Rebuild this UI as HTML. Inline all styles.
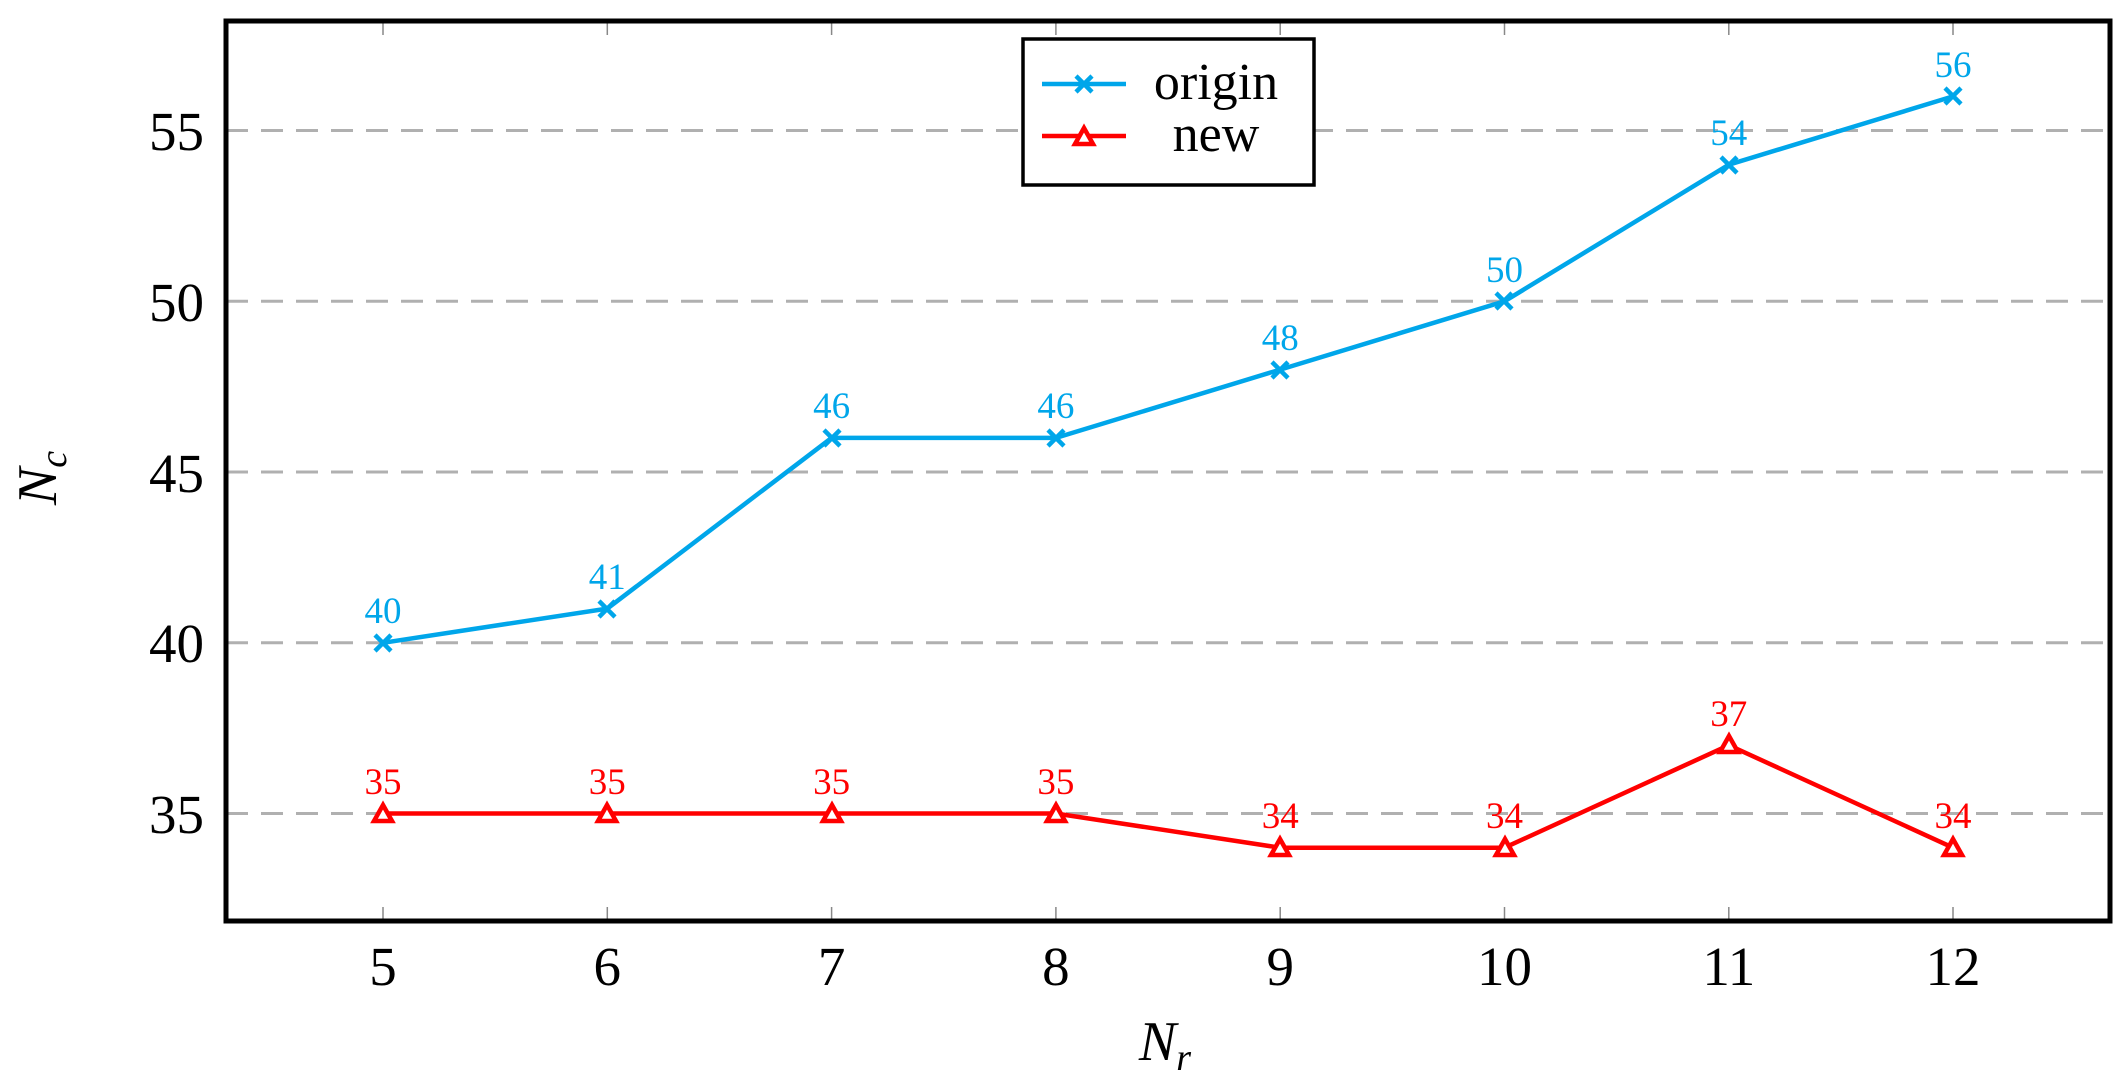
<!DOCTYPE html>
<html><head><meta charset="utf-8"><style>
html,body{margin:0;padding:0;background:#fff;}
svg{display:block;}
text{font-family:"Liberation Serif",serif;}
</style></head><body>
<svg width="2128" height="1079" viewBox="0 0 2128 1079" xmlns="http://www.w3.org/2000/svg">
<g stroke="#b0b0b0" stroke-width="3" stroke-dasharray="22,13">
<line x1="226" y1="130.5" x2="2110" y2="130.5"/>
<line x1="226" y1="301.3" x2="2110" y2="301.3"/>
<line x1="226" y1="472" x2="2110" y2="472"/>
<line x1="226" y1="642.8" x2="2110" y2="642.8"/>
<line x1="226" y1="813.5" x2="2110" y2="813.5"/>
</g>
<g stroke="#888" stroke-width="1.5">
<line x1="383" y1="21" x2="383" y2="35"/><line x1="607.3" y1="21" x2="607.3" y2="35"/><line x1="831.6" y1="21" x2="831.6" y2="35"/><line x1="1055.9" y1="21" x2="1055.9" y2="35"/><line x1="1280.2" y1="21" x2="1280.2" y2="35"/><line x1="1504.5" y1="21" x2="1504.5" y2="35"/><line x1="1728.8" y1="21" x2="1728.8" y2="35"/><line x1="1953" y1="21" x2="1953" y2="35"/>
<line x1="383" y1="921" x2="383" y2="907"/><line x1="607.3" y1="921" x2="607.3" y2="907"/><line x1="831.6" y1="921" x2="831.6" y2="907"/><line x1="1055.9" y1="921" x2="1055.9" y2="907"/><line x1="1280.2" y1="921" x2="1280.2" y2="907"/><line x1="1504.5" y1="921" x2="1504.5" y2="907"/><line x1="1728.8" y1="921" x2="1728.8" y2="907"/><line x1="1953" y1="921" x2="1953" y2="907"/>
</g>
<rect x="226" y="21" width="1884" height="900" fill="none" stroke="#000" stroke-width="5"/>
<g font-size="55" text-anchor="end" fill="#000">
<text x="204" y="150">55</text><text x="204" y="321">50</text><text x="204" y="492">45</text><text x="204" y="662">40</text><text x="204" y="833">35</text>
</g>
<g font-size="55" text-anchor="middle" fill="#000">
<text x="383" y="985">5</text><text x="607.3" y="985">6</text><text x="831.6" y="985">7</text><text x="1055.9" y="985">8</text><text x="1280.2" y="985">9</text><text x="1504.5" y="985">10</text><text x="1728.8" y="985">11</text><text x="1953" y="985">12</text>
</g>
<text x="1165" y="1060" font-size="56" font-style="italic" text-anchor="middle">N<tspan font-size="38" dy="10">r</tspan></text>
<text transform="translate(56,478) rotate(-90)" font-size="56" font-style="italic" text-anchor="middle">N<tspan font-size="38" dy="10">c</tspan></text>
<!-- origin -->
<polyline fill="none" stroke="#00A6EA" stroke-width="4.5" points="383,642.8 607.3,608.6 831.6,437.9 1055.9,437.9 1280.2,369.6 1504.5,301.3 1728.8,164.7 1953,96.4"/>
<g stroke="#00A6EA" stroke-width="4.5">
<path d="M375,635l16,16M375,651l16,-16"/><path d="M599,601l16,16M599,617l16,-16"/><path d="M824,430l16,16M824,446l16,-16"/><path d="M1048,430l16,16M1048,446l16,-16"/><path d="M1272,362l16,16M1272,378l16,-16"/><path d="M1496,293l16,16M1496,309l16,-16"/><path d="M1721,157l16,16M1721,173l16,-16"/><path d="M1945,88l16,16M1945,104l16,-16"/>
</g>
<g fill="#00A6EA" font-size="37" text-anchor="middle">
<text x="383" y="623">40</text><text x="607.3" y="589">41</text><text x="831.6" y="418">46</text><text x="1055.9" y="418">46</text><text x="1280.2" y="350">48</text><text x="1504.5" y="282">50</text><text x="1728.8" y="145">54</text><text x="1953" y="77">56</text>
</g>
<!-- new -->
<polyline fill="none" stroke="#FF0000" stroke-width="4.5" points="383,813.5 607.3,813.5 831.6,813.5 1055.9,813.5 1280.2,847.7 1504.5,847.7 1728.8,745.2 1953,847.7"/>
<g stroke="#FF0000" stroke-width="4.5" fill="#fff">
<path d="M374,821h18l-9,-16z"/><path d="M598,821h18l-9,-16z"/><path d="M823,821h18l-9,-16z"/><path d="M1047,821h18l-9,-16z"/><path d="M1271,855h18l-9,-16z"/><path d="M1496,855h18l-9,-16z"/><path d="M1720,752h18l-9,-16z"/><path d="M1944,855h18l-9,-16z"/>
</g>
<g fill="#FF0000" font-size="37" text-anchor="middle">
<text x="383" y="794">35</text><text x="607.3" y="794">35</text><text x="831.6" y="794">35</text><text x="1055.9" y="794">35</text><text x="1280.2" y="828">34</text><text x="1504.5" y="828">34</text><text x="1728.8" y="726">37</text><text x="1953" y="828">34</text>
</g>
<!-- legend -->
<rect x="1023" y="39" width="291" height="146" fill="#fff" stroke="#000" stroke-width="3.5"/>
<line x1="1042" y1="84" x2="1126" y2="84" stroke="#00A6EA" stroke-width="4.5"/>
<path d="M1076,76l16,16M1076,92l16,-16" stroke="#00A6EA" stroke-width="4.5"/>
<line x1="1042" y1="136" x2="1126" y2="136" stroke="#FF0000" stroke-width="4.5"/>
<path d="M1075,144h18l-9,-16z" stroke="#FF0000" stroke-width="4.5" fill="#fff"/>
<text x="1216" y="99" font-size="52" text-anchor="middle">origin</text>
<text x="1216" y="151" font-size="52" text-anchor="middle">new</text>
</svg>
</body></html>
